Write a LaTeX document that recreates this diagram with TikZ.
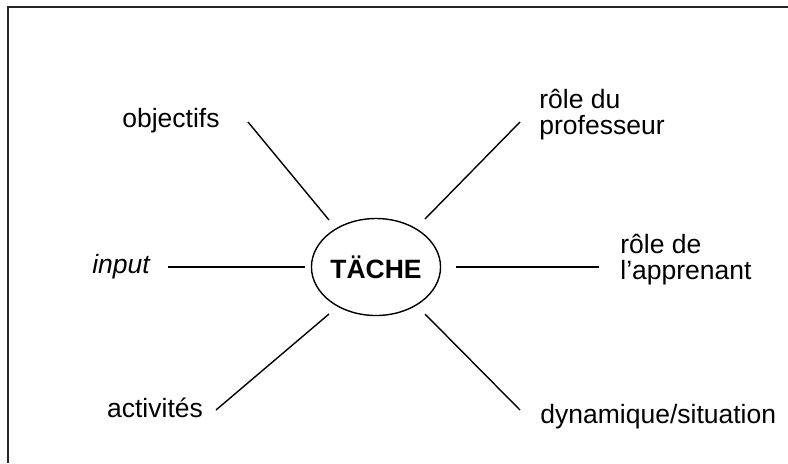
\documentclass[tikz,border=0pt]{standalone}
\usepackage{fontspec}
\setmainfont{Liberation Sans}
\usetikzlibrary{shapes.geometric,calc}
\begin{document}
\begin{tikzpicture}[x=0.5pt,y=-0.5pt,
  lbl/.style={inner sep=0pt, font=\fontsize{13.25}{13}\selectfont, align=left},
  conn/.style={line width=0.7pt},
  frame/.style={line width=1pt, draw=black!85}]
\useasboundingbox (0,0) rectangle (788,463);
\draw[frame] (8,463) -- (8,7) -- (788,7);
\node[ellipse, draw, line width=0.7pt, inner xsep=0pt, inner ysep=0pt,
  minimum width=64pt, minimum height=48.5pt,
  font=\fontsize{13.25}{13}\selectfont\bfseries] (tache) at (376,267) {TÄCHE};
\node[lbl] (obj) at (171,121) {objectifs};
\node[lbl, anchor=west] (prof) at (539,115) {rôle du\\professeur};
\node[lbl, font=\fontsize{13.25}{13}\selectfont\itshape] (inp) at (121,267) {input};
\node[lbl, anchor=west] (app) at (620,260) {rôle de\\l’apprenant};
\node[lbl] (act) at (155,408) {activités};
\node[lbl, anchor=west] (dyn) at (540,417) {dynamique/situation};
\draw[conn] ($(tache.center)+(-47,-47)$) -- ($(obj.center)+(77,1)$);
\draw[conn] ($(tache.center)+(49,-48)$) -- ($(prof.west)+(-19,7)$);
\draw[conn] ($(tache.center)+(-71,0)$) -- ($(inp.center)+(47,0)$);
\draw[conn] ($(tache.center)+(80,0)$) -- ($(app.west)+(-21,7)$);
\draw[conn] ($(tache.center)+(-47,47)$) -- ($(act.center)+(61,2)$);
\draw[conn] ($(tache.center)+(49,47)$) -- ($(dyn.west)+(-20,-7)$);
\end{tikzpicture}
\end{document}
